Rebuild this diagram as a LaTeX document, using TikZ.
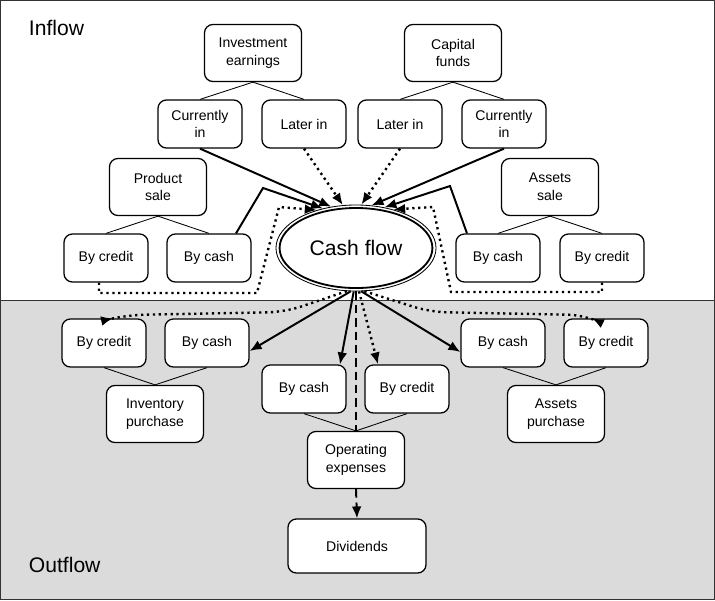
\documentclass[tikz,border=0pt]{standalone}
\usepackage{fontspec}
\setmainfont{Liberation Sans}
\usetikzlibrary{arrows.meta,shapes.geometric,calc}

\begin{document}
\begin{tikzpicture}[x=0.025cm, y=-0.025cm, font=\fontsize{10}{12.5}\selectfont,
    box/.style={draw, fill=white, rounded corners=6pt, line width=0.9pt, minimum width=2.1cm, minimum height=1.2cm, align=center, inner sep=2pt},
    bigbox/.style={box, minimum width=2.425cm, minimum height=1.425cm},
    link/.style={line width=0.6pt},
    flow/.style={line width=1.4pt, -{Latex[length=8.5pt,width=7pt]}},
    later/.style={flow, line width=1.7pt, dash pattern=on 1.6pt off 2.6pt},
    chain/.style={line width=1.4pt, dash pattern=on 6pt off 3.5pt}]
  \useasboundingbox (0,0) rectangle (715,600);
  % ================================================================ frame
  \fill[black!14] (0,300) rectangle (715,600);
  \draw[line width=0.6pt, black!80] (0,300) -- (715,300);
  \draw[line width=0.8pt, black!80] (0.5,0.5) rectangle (714.5,599.5);
  \node[anchor=west, font=\fontsize{15}{18}\selectfont] (inflow) at (24,28) {Inflow};
  \node[anchor=west, font=\fontsize{15}{18}\selectfont] (outflow) at (24,565) {Outflow};
  % ================================================================ inflow
  \node[bigbox] (inv) at (253,53) {Investment\\earnings};
  \node[bigbox] (cap) at (453,53) {Capital\\funds};
  \node[box] (nowL) at (200,124) {Currently\\in};
  \node[box] (laterL) at (304,124) {Later in};
  \node[box] (laterR) at (400,124) {Later in};
  \node[box] (nowR) at (504,124) {Currently\\in};
  \node[bigbox] (prod) at (158,187) {Product\\sale};
  \node[bigbox] (asale) at (550,187) {Assets\\sale};
  \node[box] (prodCredit) at (106,258) {By credit};
  \node[box] (prodCash) at (209,258) {By cash};
  \node[box] (asaleCash) at (498,258) {By cash};
  \node[box] (asaleCredit) at (602,258) {By credit};
  % cash flow
  \node[ellipse, draw, line width=0.6pt, fill=white, minimum width=4cm, minimum height=2.15cm, inner sep=0pt,
        font=\fontsize{15}{18}\selectfont] (cash) at (356,248) {Cash flow};
  \draw[line width=1.3pt] (cash.center) ellipse (1.91cm and 1.0cm);
  % ================================================================ outflow
  \node[box] (invCredit) at (104,343) {By credit};
  \node[box] (invCash) at (207,343) {By cash};
  \node[bigbox] (invent) at (155,414) {Inventory\\purchase};
  \node[box] (opCash) at (304,389) {By cash};
  \node[box] (opCredit) at (407,389) {By credit};
  \node[bigbox] (opex) at (356,460) {Operating\\expenses};
  \node[box, minimum width=3.45cm, minimum height=1.35cm] (divid) at (357,546) {Dividends};
  \node[box] (apCash) at (503,343) {By cash};
  \node[box] (apCredit) at (606,343) {By credit};
  \node[bigbox] (apurch) at (556,414) {Assets\\purchase};
  % tree links
  \draw[link] (inv.south) -- (nowL.north) (inv.south) -- (laterL.north);
  \draw[link] (cap.south) -- (laterR.north) (cap.south) -- (nowR.north);
  \draw[link] (prod.south) -- (prodCredit.north) (prod.south) -- (prodCash.north);
  \draw[link] (asale.south) -- (asaleCash.north) (asale.south) -- (asaleCredit.north);
  \draw[link] (invent.north) -- (invCredit.south) (invent.north) -- (invCash.south);
  \draw[link] (opex.north) -- (opCash.south) (opex.north) -- (opCredit.south);
  \draw[link] (apurch.north) -- (apCash.south) (apurch.north) -- (apCredit.south);
  % flows in
  \draw[flow] (nowL.south) -- (cash.121);
  \draw[later] (laterL.south) -- (cash.107);
  \draw[later] (laterR.south) -- (cash.83);
  \draw[flow] (nowR.south) -- (cash.70);
  \draw[flow] ($(prodCash.north)+(27,0)$) -- (263,188) -- (cash.130);
  \draw[flow] ($(asaleCash.north)+(-31,0)$) -- (450,186) -- (cash.55);
  \draw[later] ($(prodCredit.south)+(-7,0)$) -- (99,293) -- (257,293) -- (279,207) -- (cash.136);
  \draw[later] (asaleCredit.south) -- (602,292) -- (451,292) -- (433,207) -- (cash.46);
  % flows out
  \draw[later, rounded corners=12pt] (cash.258) -- (285,312) -- (128,315) -- ($(invCredit.north)+(9,0)$);
  \draw[flow] (cash.263) -- ($(invCash.east)+(0,8)$);
  \draw[flow] (cash.267) -- ($(opCash.north)+(36,0)$);
  \draw[chain] (cash.south) -- (opex.north);
  \draw[chain, -{Latex[length=8.5pt,width=7pt]}] (opex.south) -- (divid.north);
  \draw[later] (cash.274) -- ($(opCredit.north)+(-29,0)$);
  \draw[flow] (cash.277) -- ($(apCash.west)+(0,9)$);
  \draw[later, rounded corners=12pt] (cash.281) -- (430,312) -- (585,315) -- ($(apCredit.north)+(-14,0)$);
\end{tikzpicture}
\end{document}
